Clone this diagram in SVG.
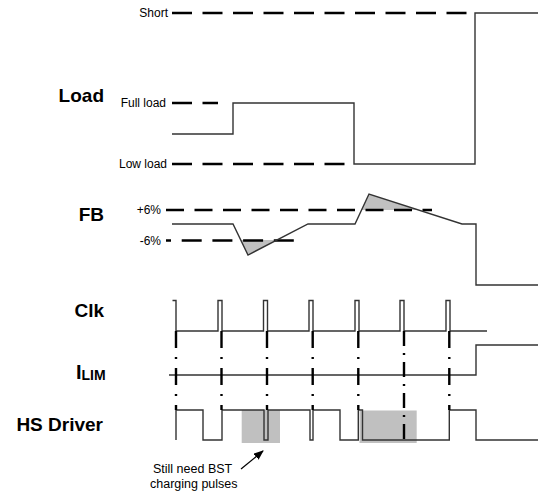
<svg xmlns="http://www.w3.org/2000/svg" width="538" height="497" viewBox="0 0 538 497">
<style>
  .lbl{font-family:"Liberation Sans",Arial,sans-serif;font-weight:bold;font-size:19px;fill:#000}
  .sm{font-family:"Liberation Sans",Arial,sans-serif;font-size:12px;fill:#000}
  .ref{stroke:#000;stroke-width:2.6;fill:none;stroke-dasharray:20 10.5}
  .sig{stroke:#333;stroke-width:1.4;fill:none;stroke-linejoin:miter}
  .shade{fill:#c0c0c0;stroke:none}
  .dd{stroke:#000;stroke-width:2.4;fill:none;stroke-dasharray:17 9 2 9}
  .dd2{stroke:#000;stroke-width:2.4;fill:none;stroke-dasharray:15 7 2 7}
</style>
<defs>
  <marker id="ah" markerWidth="10" markerHeight="10" refX="9" refY="4" orient="auto" markerUnits="userSpaceOnUse">
    <path d="M0,0 L10,4 L0,8 Z" fill="#000"/>
  </marker>
</defs>
<rect width="538" height="497" fill="#fff"/>

<g id="load">
  <text class="lbl" x="104" y="102" text-anchor="end">Load</text>
  <text class="sm" x="168" y="17" text-anchor="end">Short</text>
  <text class="sm" x="166" y="107" text-anchor="end">Full load</text>
  <text class="sm" x="167" y="168" text-anchor="end">Low load</text>
  <line class="ref" x1="172" y1="13" x2="468" y2="13"/>
  <line class="ref" x1="172" y1="103" x2="218" y2="103"/>
  <line class="ref" x1="172" y1="164" x2="346" y2="164"/>
  <path class="sig" d="M172,134 H233 V103 H354 V164 H475 V13 H538"/>
</g>

<g id="fb">
  <text class="lbl" x="104" y="221" text-anchor="end">FB</text>
  <text class="sm" x="161" y="214" text-anchor="end">+6%</text>
  <text class="sm" x="161" y="245" text-anchor="end">-6%</text>
  <polygon class="shade" points="240.7,240 248,255 277,240"/>
  <polygon class="shade" points="361.5,210 369,194 418.6,210"/>
  <line class="ref" x1="166" y1="210" x2="432" y2="210" style="stroke-dasharray:18 10.5"/>
  <line class="ref" x1="166" y1="240.5" x2="295" y2="240.5" style="stroke-dasharray:5 10.7 20 10.7 20 10.7 20 10.7 20 10.7 20 10.7 20 10.7 20 10.7 20"/>
  <path class="sig" d="M172,224 H233 L248,255 L308,224 H355 L369,194 L462,224 H476 V285 H538"/>
</g>

<g id="clk">
  <text class="lbl" x="104" y="316.5" text-anchor="end">Clk</text>
  <path class="sig" d="M172.5,300.5 H176 V331 H218 V300.5 H222 V331 H263.5 V300.5 H267.5 V331 H309 V300.5 H313 V331 H355 V300.5 H359 V331 H400 V300.5 H404 V331 H446 V300.5 H450 V331 H487"/>
</g>

<g id="ilim">
  <text class="lbl" x="76" y="379" style="font-size:20px">I<tspan style="font-size:14px" dy="1">LIM</tspan></text>
  <path class="sig" d="M169,375 H476 V345 H538"/>
</g>

<g id="hs-driver">
  <text class="lbl" x="103" y="431" text-anchor="end">HS Driver</text>
  <rect class="shade" x="241.7" y="410" width="38.3" height="33"/>
  <rect class="shade" x="359.5" y="410.5" width="57.2" height="32.5"/>
  <path class="sig" d="M176,440 V410 H203 V440 H222 V410 H264 V440 H268 V410 H310 V440 H313 V410 H340 V440 H358.3 V410 H362.5 V440 H449.3 V410 H476 V440 H538"/>
</g>

<g id="connectors">
  <line class="dd" x1="176" y1="331" x2="176" y2="410"/>
  <line class="dd" x1="221.5" y1="331" x2="221.5" y2="410"/>
  <line class="dd" x1="267" y1="331" x2="267" y2="410"/>
  <line class="dd" x1="312.7" y1="331" x2="312.7" y2="410"/>
  <line class="dd" x1="358.3" y1="331" x2="358.3" y2="410"/>
  <line class="dd2" x1="404" y1="331" x2="404" y2="440"/>
  <line class="dd" x1="449.3" y1="331" x2="449.3" y2="410"/>
  <line x1="241" y1="469" x2="263" y2="451" stroke="#000" stroke-width="1.2" marker-end="url(#ah)"/>
</g>

<g id="note">
  <text class="sm" x="153" y="473" style="font-size:12.5px">Still need BST</text>
  <text class="sm" x="150" y="488" style="font-size:12.5px">charging pulses</text>
</g>
</svg>
